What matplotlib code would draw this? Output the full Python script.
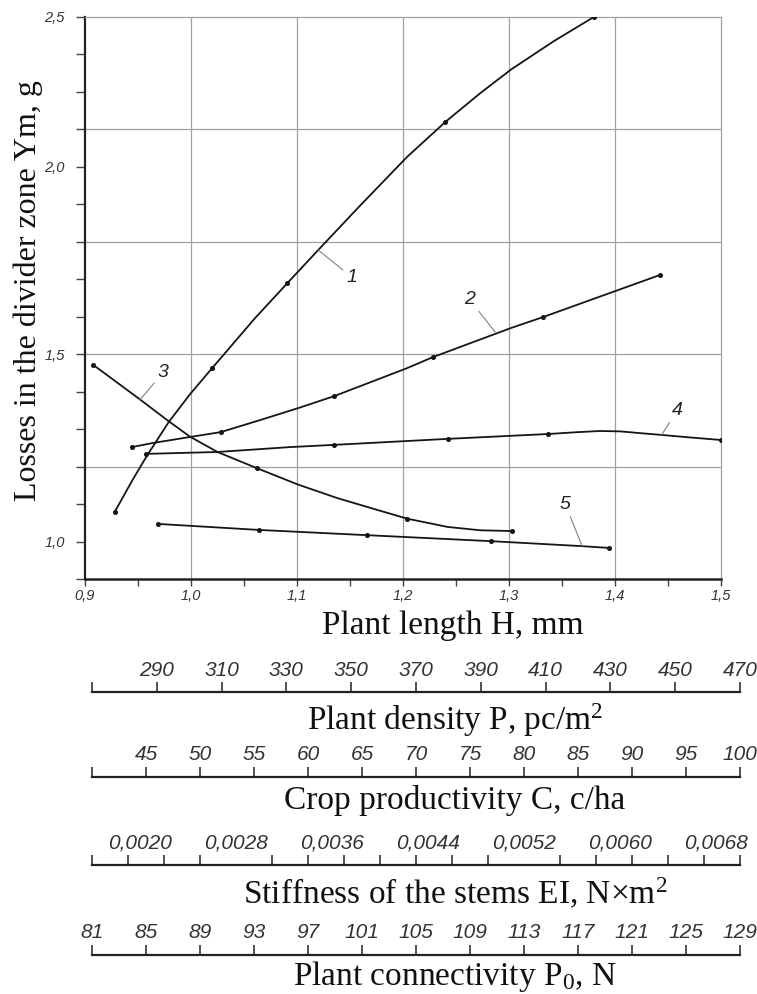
import matplotlib
matplotlib.use('Agg')
import matplotlib.pyplot as plt

plt.rcParams['font.family'] = ['Liberation Sans', 'DejaVu Sans']

# ---- values: plant length H vs losses Ym ----
h1 = [0.928, 0.945, 0.958, 0.979, 0.999, 1.020, 1.037, 1.060, 1.091, 1.120,
      1.159, 1.204, 1.240, 1.273, 1.302, 1.342, 1.380]
y1 = [1.079, 1.165, 1.227, 1.319, 1.393, 1.463, 1.519, 1.595, 1.690, 1.778,
      1.895, 2.027, 2.120, 2.197, 2.260, 2.335, 2.400]
m1 = [0, 5, 8, 12, 16]

h2 = [0.944, 0.964, 0.999, 1.028, 1.065, 1.101, 1.135, 1.204, 1.228, 1.302, 1.332, 1.442]
y2 = [1.252, 1.263, 1.279, 1.292, 1.324, 1.356, 1.388, 1.463, 1.492, 1.570, 1.599, 1.711]
m2 = [0, 3, 6, 8, 10, 11]

h3 = [0.908, 0.952, 0.979, 0.999, 1.025, 1.062, 1.101, 1.138, 1.175, 1.204, 1.242, 1.273, 1.303]
y3 = [1.471, 1.379, 1.321, 1.280, 1.239, 1.196, 1.152, 1.116, 1.085, 1.061, 1.039, 1.030, 1.028]
m3 = [0, 5, 9, 12]

h4 = [0.958, 1.025, 1.093, 1.135, 1.242, 1.337, 1.365, 1.386, 1.405, 1.425, 1.442, 1.470, 1.500]
y4 = [1.234, 1.239, 1.252, 1.258, 1.274, 1.287, 1.292, 1.295, 1.294, 1.289, 1.285, 1.278, 1.271]
m4 = [0, 3, 4, 5, 12]

h5 = [0.969, 1.064, 1.166, 1.283, 1.367, 1.394]
y5 = [1.047, 1.031, 1.017, 1.001, 0.988, 0.983]
m5 = [0, 1, 2, 3, 5]

# main axis ticks
h_ticks = [0.9, 1.0, 1.1, 1.2, 1.3, 1.4, 1.5]
h_labels = ['0,9', '1,0', '1,1', '1,2', '1,3', '1,4', '1,5']
ym_ticks = [0.9, 1.0, 1.1, 1.2, 1.3, 1.4, 1.5, 1.6, 1.7, 1.8, 1.9, 2.0, 2.1, 2.2, 2.3, 2.4]
ym_labels = ['', '1,0', '', '', '', '', '1,5', '', '', '', '', '2,0', '', '', '', '2,5']

# extra scales below the chart
density_ticks = [270, 290, 310, 330, 350, 370, 390, 410, 430, 450, 470]
density_labels = ['', '290', '310', '330', '350', '370', '390', '410', '430', '450', '470']
crop_ticks = [40, 45, 50, 55, 60, 65, 70, 75, 80, 85, 90, 95, 100]
crop_labels = ['', '45', '50', '55', '60', '65', '70', '75', '80', '85', '90', '95', '100']
stiff_marks = [0.0016, 0.0019, 0.0022, 0.0025, 0.0028, 0.0031, 0.0034, 0.0037, 0.0040, 0.0043,
               0.0046, 0.0049, 0.0052, 0.0055, 0.0058, 0.0061, 0.0064, 0.0067, 0.0070]
stiff_ticks = [0.0020, 0.0028, 0.0036, 0.0044, 0.0052, 0.0060, 0.0068]
stiff_labels = ['0,0020', '0,0028', '0,0036', '0,0044', '0,0052', '0,0060', '0,0068']
conn_ticks = [81, 85, 89, 93, 97, 101, 105, 109, 113, 117, 121, 125, 129]
conn_labels = [str(v) for v in conn_ticks]

W, H = 757, 994
fig = plt.figure(figsize=(W / 100, H / 100), dpi=100)
ax = fig.add_axes([85 / W, 1 - 579 / H, 636 / W, 562 / H])

for x in [1.0, 1.1, 1.2, 1.3, 1.4]:
    ax.axvline(x, color='#a0a0a0', lw=0.9, zorder=1)
for y in [1.2, 1.5, 1.8, 2.1]:
    ax.axhline(y, color='#a0a0a0', lw=0.9, zorder=1)

for hx, yy, mk in [(h1, y1, m1), (h2, y2, m2), (h3, y3, m3), (h4, y4, m4), (h5, y5, m5)]:
    ax.plot(hx, yy, color='#151515', lw=1.3, marker='o', ms=2.6, markevery=mk, zorder=3)

lead = dict(arrowstyle='-', color='#808080', lw=0.8, shrinkA=1, shrinkB=0)
num = dict(fontsize=14, style='italic', ha='center', va='center', color='#222222')
ax.annotate('1', xy=(1.120, 1.778), xytext=(1.152, 1.705), arrowprops=lead, **num)
ax.annotate('2', xy=(1.287, 1.559), xytext=(1.263, 1.645), arrowprops=lead, **num)
ax.annotate('3', xy=(0.952, 1.379), xytext=(0.974, 1.452), arrowprops=lead, **num)
ax.annotate('4', xy=(1.444, 1.285), xytext=(1.459, 1.351), arrowprops=lead, **num)
ax.annotate('5', xy=(1.369, 0.988), xytext=(1.353, 1.100), arrowprops=lead, **num)

ax.set_xlim(0.9, 1.5)
ax.set_ylim(0.9, 2.4)
ax.set_xticks(h_ticks)
ax.set_xticklabels(h_labels, fontsize=10.5, style='italic', color='#333333')
ax.set_xticks([0.95, 1.05, 1.15, 1.25, 1.35, 1.45], minor=True)
ax.set_yticks(ym_ticks)
ax.set_yticklabels(ym_labels, fontsize=10.5, style='italic', color='#333333')
ax.tick_params(axis='x', which='both', direction='out', length=5, width=1, color='#444444', pad=2)
ax.tick_params(axis='y', direction='out', length=6.5, width=1, color='#444444', pad=8)
for side in ['top', 'right']:
    ax.spines[side].set_color('#a0a0a0')
    ax.spines[side].set_linewidth(0.9)
ax.spines['left'].set_linewidth(1.6)
ax.spines['bottom'].set_linewidth(1.8)
ax.spines['left'].set_color('#222222')
ax.spines['bottom'].set_color('#222222')

serif = dict(family='Liberation Serif', fontsize=24, ha='center', va='center', color='#111111')
fig.text(28 / W, 1 - 291 / H, 'Losses in the divider zone Ym, g', rotation=90,
         **{**serif, 'fontsize': 23})
fig.text(453 / W, 1 - 626 / H, 'Plant length H, mm', **serif)


def scale(y_line, lo, hi, ticks, labels, title, gap, marks=None):
    s = fig.add_axes([92 / W, 1 - (y_line + 20) / H, 648 / W, 20 / H])
    s.set_xlim(lo, hi)
    s.set_yticks([])
    for side in ['left', 'right', 'bottom']:
        s.spines[side].set_visible(False)
    s.spines['top'].set_linewidth(1.6)
    s.spines['top'].set_color('#222222')
    s.patch.set_alpha(0)
    s.xaxis.tick_top()
    s.set_xticks(ticks)
    s.set_xticklabels(labels, fontsize=15, style='italic', color='#333333')
    if marks is None:
        s.tick_params(axis='x', direction='out', length=7, width=1.2, color='#333333', pad=2)
    else:
        s.tick_params(axis='x', which='major', length=0, pad=9)
        s.set_xticks(marks, minor=True)
        s.tick_params(axis='x', which='minor', top=True, bottom=False, direction='out',
                      length=7, width=1.2, color='#333333')
    fig.text(455 / W, 1 - (y_line + gap) / H, title, **serif)


scale(692, 270, 470, density_ticks, density_labels, r'Plant density P, pc/m$\mathregular{^2}$', 28)
scale(777, 40, 100, crop_ticks, crop_labels, 'Crop productivity C, c/ha', 24)
scale(865, 0.0016, 0.0070, stiff_ticks, stiff_labels,
      r'Stiffness of the stems EI, N×m$\mathregular{^2}$', 29, marks=stiff_marks)
scale(955, 81, 129, conn_ticks, conn_labels, r'Plant connectivity P$\mathregular{_0}$, N', 22)

fig.savefig('out.png', dpi=100)
